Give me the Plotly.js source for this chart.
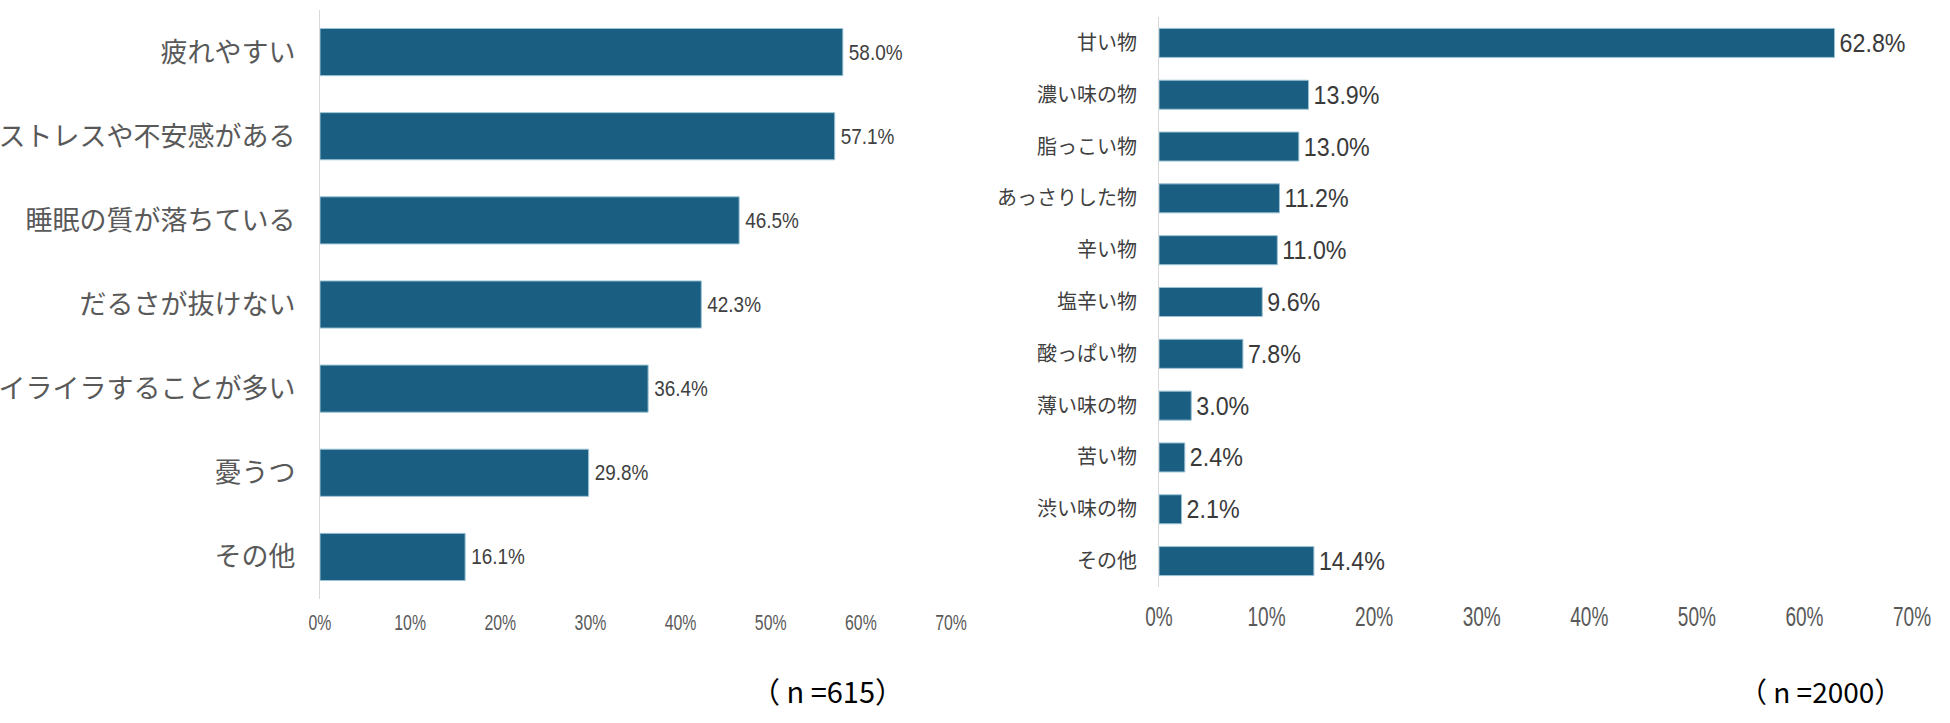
<!DOCTYPE html>
<html>
<head>
<meta charset="utf-8">
<script src="https://cdn.plot.ly/plotly-3.0.1.min.js"></script>
<style>html,body{margin:0;padding:0;background:#fff;}#chart{width:1950px;height:723px;}</style>
</head>
<body>
<div id="chart"></div>
<script>
// Left chart data (n=615)
const leftCategories = ["疲れやすい", "ストレスや不安感がある", "睡眠の質が落ちている", "だるさが抜けない", "イライラすることが多い", "憂うつ", "その他"];
const leftValues = [58.0, 57.1, 46.5, 42.3, 36.4, 29.8, 16.1];
const leftNote = "（ n =615）";

// Right chart data (n=2000)
const rightCategories = ["甘い物", "濃い味の物", "脂っこい物", "あっさりした物", "辛い物", "塩辛い物", "酸っぱい物", "薄い味の物", "苦い物", "渋い味の物", "その他"];
const rightValues = [62.8, 13.9, 13.0, 11.2, 11.0, 9.6, 7.8, 3.0, 2.4, 2.1, 14.4];
const rightNote = "（ n =2000）";

const xTickVals = [0, 10, 20, 30, 40, 50, 60, 70];
const xTickText = ["0%", "10%", "20%", "30%", "40%", "50%", "60%", "70%"];

const JP = '"Noto Sans CJK JP", "Noto Sans", sans-serif';
const NUM = '"Liberation Sans", Arial, sans-serif';
const barColor = '#1a5f82';

const traces = [
  {
    type: 'bar', orientation: 'h',
    x: leftValues, y: leftCategories,
    xaxis: 'x', yaxis: 'y',
    marker: {color: barColor, line: {color: '#9cc3d5', width: 1}},
    text: leftValues.map(v => v.toFixed(1) + '%'),
    textposition: 'outside', cliponaxis: false, constraintext: 'none',
    textfont: {family: NUM, size: 22, color: '#404040'},
    hoverinfo: 'none'
  },
  {
    type: 'bar', orientation: 'h',
    x: rightValues, y: rightCategories,
    xaxis: 'x2', yaxis: 'y2',
    marker: {color: barColor, line: {color: '#9cc3d5', width: 1}},
    text: rightValues.map(v => v.toFixed(1) + '%'),
    textposition: 'outside', cliponaxis: false, constraintext: 'none',
    textfont: {family: NUM, size: 25, color: '#3a3a3a'},
    hoverinfo: 'none'
  }
];

const layout = {
  width: 1950, height: 723,
  margin: {l: 0, r: 0, t: 0, b: 0},
  paper_bgcolor: '#ffffff', plot_bgcolor: '#ffffff',
  showlegend: false,
  bargap: 0.44,
  xaxis: {
    domain: [320/1950, 951/1950], anchor: 'y',
    range: [0, 70], tickvals: xTickVals, ticktext: xTickText,
    showgrid: false, zeroline: false, showline: false,
    ticks: 'outside', ticklen: 4, tickcolor: 'rgba(0,0,0,0)',
    tickfont: {family: NUM, size: 22, color: '#595959'},
    fixedrange: true
  },
  yaxis: {
    domain: [1 - 599/723, 1 - 10/723], anchor: 'x',
    autorange: 'reversed',
    showgrid: false, zeroline: false,
    showline: true, linecolor: '#d9d9d9', linewidth: 1,
    ticks: '', ticklabelstandoff: 18,
    tickfont: {family: JP, size: 27, color: '#595959'},
    fixedrange: true
  },
  xaxis2: {
    domain: [1159/1950, 1912/1950], anchor: 'y2',
    range: [0, 70], tickvals: xTickVals, ticktext: xTickText,
    showgrid: false, zeroline: false, showline: false,
    ticks: 'outside', ticklen: 4, tickcolor: 'rgba(0,0,0,0)',
    tickfont: {family: NUM, size: 28, color: '#595959'},
    fixedrange: true
  },
  yaxis2: {
    domain: [1 - 587/723, 1 - 17/723], anchor: 'x2',
    autorange: 'reversed',
    showgrid: false, zeroline: false,
    showline: true, linecolor: '#d9d9d9', linewidth: 1,
    ticks: '', ticklabelstandoff: 17,
    tickfont: {family: JP, size: 20, color: '#404040'},
    fixedrange: true
  },
  annotations: [
    {text: leftNote, xref: 'paper', yref: 'paper', x: 827/1950, y: 1 - 690/723,
     xanchor: 'center', yanchor: 'middle', showarrow: false,
     font: {family: JP, size: 29, color: '#000000'}},
    {text: rightNote, xref: 'paper', yref: 'paper', x: 1820/1950, y: 1 - 691/723,
     xanchor: 'center', yanchor: 'middle', showarrow: false,
     font: {family: JP, size: 28, color: '#000000'}}
  ]
};

// Horizontally condense numeric labels to mimic the narrow font of the original
function squeeze(selector, s, keep, extra) {
  document.querySelectorAll(selector).forEach(t => {
    const b0 = t.getBBox();
    const len = t.getComputedTextLength();
    t.setAttribute('textLength', (len * s).toFixed(2));
    t.setAttribute('lengthAdjust', 'spacingAndGlyphs');
    const b1 = t.getBBox();
    let dx;
    if (keep === 'left') dx = b0.x - b1.x + (extra || 0);
    else dx = (b0.x + b0.width / 2) - (b1.x + b1.width / 2);
    const x = parseFloat(t.getAttribute('x') || '0');
    t.setAttribute('x', (x + dx).toFixed(2));
  });
}

Plotly.newPlot('chart', traces, layout, {displayModeBar: false, staticPlot: true}).then(() => {
  squeeze('.xtick text', 0.72, 'center');
  squeeze('.x2tick text', 0.68, 'center');
  squeeze('.subplot.xy .bartext', 0.86, 'left', 3);
  squeeze('.subplot.x2y2 .bartext', 0.93, 'left', 2);
});
</script>
</body>
</html>
